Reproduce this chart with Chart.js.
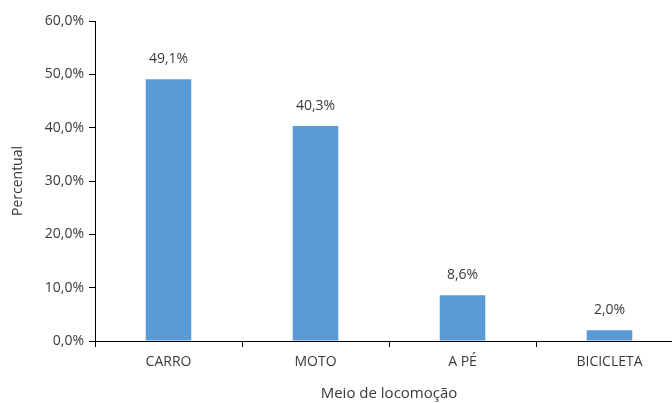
<!DOCTYPE html>
<html>
<head>
<meta charset="utf-8">
<script src="https://cdn.jsdelivr.net/npm/chart.js@4/dist/chart.umd.min.js"></script>
<style>
  html, body { margin: 0; padding: 0; background: #fff; overflow: hidden; }
  #wrap { width: 672px; height: 403px; overflow: hidden; }
</style>
</head>
<body>
<div id="wrap"><canvas id="c" width="690" height="403"></canvas></div>
<script>
const categories = ['CARRO', 'MOTO', 'A PÉ', 'BICICLETA'];
const percentValues = [49.1, 40.3, 8.6, 2.0];
const yTickValues = [0, 10, 20, 30, 40, 50, 60];

const FONT = '"Open Sans", Lato, sans-serif';
const TEXT = '#3a3a3a';

const fmt = v => v.toFixed(1).replace('.', ',') + '%';

// Draws the value above each bar
const valueLabels = {
  id: 'valueLabels',
  afterDatasetsDraw(chart) {
    const ctx = chart.ctx;
    const meta = chart.getDatasetMeta(0);
    ctx.save();
    ctx.font = '14px ' + FONT;
    ctx.fillStyle = TEXT;
    ctx.textAlign = 'center';
    ctx.textBaseline = 'middle';
    meta.data.forEach((bar, i) => {
      ctx.fillText(fmt(percentValues[i]), bar.x, bar.y - 20);
    });
    ctx.restore();
  }
};

new Chart(document.getElementById('c'), {
  type: 'bar',
  data: {
    labels: categories,
    datasets: [{
      data: percentValues,
      backgroundColor: '#5B9BD5',
      borderWidth: 0,
      categoryPercentage: 1,
      barPercentage: 0.31
    }]
  },
  options: {
    responsive: false,
    animation: false,
    layout: { padding: { left: 0, right: 7, top: 21, bottom: 0 } },
    plugins: { legend: { display: false }, tooltip: { enabled: false } },
    scales: {
      x: {
        offset: true,
        grid: { offset: true, drawOnChartArea: false, drawTicks: true, tickLength: 6, color: '#000', lineWidth: 1 },
        border: { color: '#000', width: 1 },
        ticks: { color: TEXT, font: { family: FONT, size: 14 }, padding: 7, maxRotation: 0 },
        title: { display: true, text: 'Meio de locomoção', color: TEXT, font: { family: FONT, size: 15 }, padding: { top: 6, bottom: 0 } },
        afterFit(scale) { scale.height = 62; }
      },
      y: {
        min: 0,
        max: 60,
        afterBuildTicks(scale) { scale.ticks = yTickValues.map(v => ({ value: v })); },
        grid: { drawOnChartArea: false, drawTicks: true, tickLength: 6, color: '#000', lineWidth: 1 },
        border: { color: '#000', width: 1 },
        ticks: { color: TEXT, font: { family: FONT, size: 14 }, padding: 5, callback: v => fmt(v) },
        title: { display: true, text: 'Percentual', color: TEXT, font: { family: FONT, size: 14 }, padding: { top: 10, bottom: 4 } },
        afterFit(scale) { scale.width = 95; }
      }
    }
  },
  plugins: [valueLabels]
});
</script>
</body>
</html>
